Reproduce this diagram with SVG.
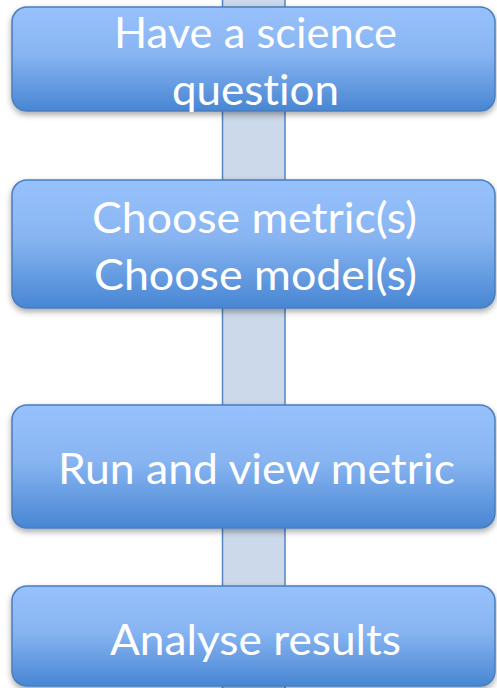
<svg xmlns="http://www.w3.org/2000/svg" width="497" height="688" viewBox="0 0 497 688">
  <defs>
    <linearGradient id="boxFill" x1="0" y1="0" x2="0" y2="1">
      <stop offset="0" stop-color="#97C1FC"/>
      <stop offset="0.45" stop-color="#88B5F2"/>
      <stop offset="1" stop-color="#4886D3"/>
    </linearGradient>
    <filter id="shadow" x="-5%" y="-10%" width="110%" height="130%">
      <feGaussianBlur in="SourceAlpha" stdDeviation="3"/>
      <feOffset dx="0" dy="3" result="b"/>
      <feComponentTransfer><feFuncA type="linear" slope="0.35"/></feComponentTransfer>
      <feMerge><feMergeNode/><feMergeNode in="SourceGraphic"/></feMerge>
    </filter>
  </defs>
  <style>
    .box { fill: url(#boxFill); stroke: #4A7DBD; stroke-width: 1.5; filter: url(#shadow); }
    .label { font-family: "Lato", "Open Sans", sans-serif; font-size: 43px; fill: #FFFFFF; text-anchor: middle; font-variant-ligatures: none; }
    .spine { fill: #CCD9EA; stroke: #5584BF; stroke-width: 1.5; }
  </style>

  <rect width="497" height="688" fill="#FFFFFF"/>

  <!-- vertical spine joining the steps -->
  <g id="connectors">
    <rect class="spine" x="222.5" y="-2" width="62.5" height="692"/>
  </g>

  <g id="step-question">
    <rect class="box" x="12" y="7" width="483" height="104" rx="15" ry="15"/>
    <text class="label" x="255.5" y="48" textLength="283" lengthAdjust="spacingAndGlyphs">Have a science</text>
    <text class="label" x="255.5" y="105" textLength="167" lengthAdjust="spacingAndGlyphs">question</text>
  </g>

  <g id="step-choose">
    <rect class="box" x="12" y="180" width="483" height="128" rx="15" ry="15"/>
    <text class="label" x="254.5" y="233" textLength="325" lengthAdjust="spacingAndGlyphs">Choose metric(s)</text>
    <text class="label" x="255.5" y="290" textLength="323" lengthAdjust="spacingAndGlyphs">Choose model(s)</text>
  </g>

  <g id="step-run">
    <rect class="box" x="12" y="405" width="483" height="123" rx="15" ry="15"/>
    <text class="label" x="256.5" y="484" textLength="397" lengthAdjust="spacingAndGlyphs">Run and view metric</text>
  </g>

  <g id="step-analyse">
    <rect class="box" x="12" y="586" width="483" height="100" rx="15" ry="15"/>
    <text class="label" x="255.5" y="655" textLength="291" lengthAdjust="spacingAndGlyphs">Analyse results</text>
  </g>
</svg>
